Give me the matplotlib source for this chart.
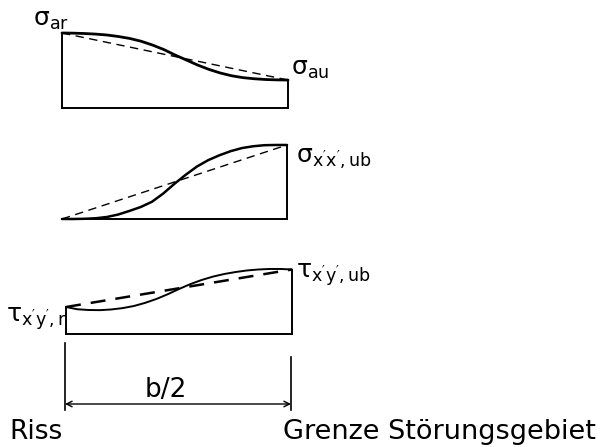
import matplotlib
matplotlib.use("Agg")
import matplotlib.pyplot as plt

# position along half-width b/2 (0 = Riss, 1 = Grenze Störungsgebiet)
t = [0.0, 0.05, 0.1, 0.15, 0.2, 0.25, 0.3, 0.35, 0.4, 0.45, 0.5,
     0.55, 0.6, 0.65, 0.7, 0.75, 0.8, 0.85, 0.9, 0.95, 1.0]
# stress distributions (arbitrary units)
sigma_a = [1.0, 0.998, 0.993, 0.985, 0.973, 0.953, 0.927, 0.89, 0.84, 0.78, 0.707,
           0.64, 0.573, 0.515, 0.467, 0.43, 0.405, 0.39, 0.38, 0.375, 0.373]
sigma_xx = [0.0, 0.0, 0.003, 0.01, 0.027, 0.06, 0.108, 0.16, 0.23, 0.34, 0.47,
            0.59, 0.70, 0.785, 0.85, 0.905, 0.946, 0.97, 0.984, 0.987, 0.987]
tau_xy = [0.36, 0.33, 0.32, 0.318, 0.327, 0.345, 0.373, 0.415, 0.467, 0.53, 0.60,
          0.665, 0.72, 0.765, 0.80, 0.826, 0.847, 0.86, 0.867, 0.867, 0.86]

labels_right = [r"$\mathregular{σ_{au}}$", r"$\mathregular{σ_{x'x',ub}}$", r"$\mathregular{τ_{x'y',ub}}$"]
labels_left = [r"$\mathregular{σ_{ar}}$", None, r"$\mathregular{τ_{x'y',r}}$"]
bottom_labels = ["Riss", "Grenze Störungsgebiet"]
dim_label = "b/2"

W, H = 603, 447
fig = plt.figure(figsize=(W / 100, H / 100), dpi=100)
fig.patch.set_facecolor("white")

# panel geometry in pixels: left, right, baseline
panels = [(62, 288, 108), (62, 287, 219), (66, 292, 334)]
series = [sigma_a, sigma_xx, tau_xy]
scale = 75  # pixels per unit
lw_curve = [2.0, 1.8, 1.4]
lw_dash = [1.0, 1.0, 1.8]

for (x0, x1, yb), vals, lwc, lwd in zip(panels, series, lw_curve, lw_dash):
    ax = fig.add_axes([x0 / W, (H - yb) / H, (x1 - x0) / W, scale / H])
    ax.set_xlim(0, 1)
    ax.set_ylim(0, 1)
    ax.axis("off")
    ax.plot(t, vals, color="black", lw=lwc, clip_on=False,
            solid_capstyle="round", solid_joinstyle="round")
    ax.plot([t[0], t[-1]], [vals[0], vals[-1]], color="black", lw=lwd,
            ls=(0, (6, 4)), clip_on=False)
    ax.plot([0, 1], [0, 0], color="black", lw=1.4, clip_on=False)
    if vals[0] > 0:
        ax.plot([0, 0], [0, vals[0]], color="black", lw=1.4, clip_on=False)
    ax.plot([1, 1], [0, vals[-1]], color="black", lw=1.4, clip_on=False)

# overlay for annotations in pixel coordinates
ov = fig.add_axes([0, 0, 1, 1])
ov.set_xlim(0, W)
ov.set_ylim(H, 0)
ov.axis("off")
ov.patch.set_alpha(0)

fs_sym = 18
ov.text(33, 26, labels_left[0], fontsize=fs_sym, ha="left", va="baseline")
ov.text(291, 75, labels_right[0], fontsize=fs_sym, ha="left", va="baseline")
ov.text(296, 163, labels_right[1], fontsize=fs_sym, ha="left", va="baseline")
ov.text(296, 278, labels_right[2], fontsize=fs_sym, ha="left", va="baseline")
ov.text(6, 322, labels_left[2], fontsize=fs_sym, ha="left", va="baseline")

# dimension line
ov.plot([65, 65], [343, 410], color="black", lw=1.2)
ov.plot([291, 291], [357, 410], color="black", lw=1.2)
ov.annotate("", xy=(291, 404), xytext=(65, 404),
            arrowprops=dict(arrowstyle="<->", color="black", lw=1.0,
                            shrinkA=0, shrinkB=0, mutation_scale=10))
ov.text(166, 397, dim_label, fontsize=19, ha="center", va="baseline")

ov.text(9, 439, bottom_labels[0], fontsize=19, ha="left", va="baseline")
ov.text(283, 439, bottom_labels[1], fontsize=19.5, ha="left", va="baseline")

fig.savefig("out.png", dpi=100, facecolor="white")
